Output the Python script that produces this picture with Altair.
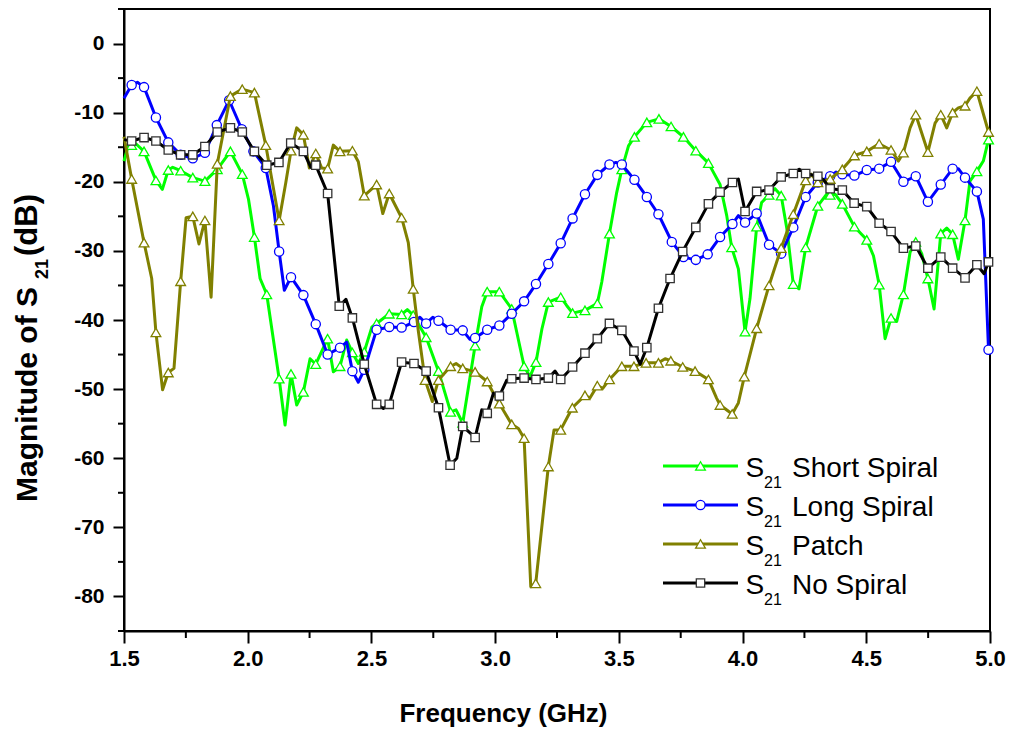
import altair as alt
import pandas as pd

# ---- S21 Short Spiral ----
short_f = [1.500, 1.517, 1.531, 1.548, 1.581, 1.629, 1.655, 1.679, 1.697, 1.729,
           1.778, 1.827, 1.877, 1.930, 1.978, 2.003, 2.027, 2.050, 2.077, 2.127,
           2.151, 2.175, 2.198, 2.225, 2.252, 2.275, 2.323, 2.346, 2.373, 2.400,
           2.423, 2.447, 2.471, 2.502, 2.521, 2.572, 2.622, 2.645, 2.669, 2.721,
           2.771, 2.820, 2.842, 2.869, 2.919, 2.946, 2.968, 3.017, 3.067, 3.087,
           3.117, 3.141, 3.165, 3.189, 3.215, 3.265, 3.289, 3.313, 3.363, 3.413,
           3.431, 3.462, 3.491, 3.512, 3.539, 3.563, 3.613, 3.662, 3.711, 3.761,
           3.811, 3.862, 3.909, 3.936, 3.956, 3.983, 4.010, 4.030, 4.057, 4.077,
           4.107, 4.131, 4.156, 4.179, 4.205, 4.228, 4.255, 4.304, 4.340, 4.354,
           4.374, 4.403, 4.452, 4.502, 4.529, 4.552, 4.576, 4.600, 4.623, 4.650,
           4.677, 4.700, 4.724, 4.749, 4.774, 4.801, 4.825, 4.849, 4.872, 4.899,
           4.919, 4.947, 4.973, 4.994]
short_db = [-17.0, -14.8, -14.7, -14.5, -15.6, -19.8, -21.1, -18.3, -17.9, -18.4,
            -19.4, -19.9, -18.2, -15.6, -18.9, -22.5, -28.0, -34.0, -36.3, -48.5,
            -55.2, -47.8, -52.3, -50.4, -45.6, -46.4, -42.7, -47.5, -46.7, -42.9,
            -44.7, -46.3, -44.6, -41.0, -40.5, -39.1, -39.2, -38.5, -39.3, -42.5,
            -47.4, -53.3, -53.0, -54.9, -43.7, -38.1, -35.9, -35.9, -38.4, -41.7,
            -46.7, -48.2, -46.1, -41.3, -37.4, -36.7, -37.9, -39.0, -38.6, -37.6,
            -34.5, -27.5, -21.6, -18.2, -14.8, -13.5, -11.4, -10.9, -12.0, -13.5,
            -15.5, -17.3, -20.4, -24.9, -29.5, -32.6, -41.7, -36.9, -26.5, -23.0,
            -21.9, -21.0, -22.0, -26.8, -34.8, -35.5, -29.5, -23.5, -21.8, -21.9,
            -21.8, -23.2, -26.5, -28.4, -30.7, -34.9, -42.7, -39.7, -40.2, -36.3,
            -30.2, -28.7, -30.4, -34.0, -38.4, -27.5, -26.7, -27.6, -31.2, -25.6,
            -19.9, -18.5, -17.0, -13.9]
short_mk = [0, 0, 1, 0, 1, 1, 0, 1, 0, 1,
            1, 1, 1, 1, 1, 0, 1, 0, 1, 1,
            0, 1, 0, 1, 0, 1, 1, 0, 1, 0,
            1, 0, 1, 0, 1, 1, 1, 0, 1, 1,
            1, 1, 0, 1, 1, 0, 1, 1, 1, 0,
            1, 0, 1, 0, 1, 1, 0, 1, 1, 1,
            0, 1, 0, 1, 0, 1, 1, 1, 1, 1,
            1, 1, 0, 0, 1, 0, 1, 0, 1, 0,
            1, 0, 1, 0, 1, 0, 1, 1, 0, 1,
            0, 1, 1, 1, 0, 1, 0, 1, 0, 1,
            0, 1, 0, 1, 0, 1, 0, 1, 0, 1,
            0, 1, 0, 1]

# ---- S21 Long Spiral ----
long_f = [1.500, 1.531, 1.554, 1.581, 1.629, 1.679, 1.729, 1.778, 1.827, 1.875,
          1.925, 1.976, 2.023, 2.073, 2.104, 2.127, 2.148, 2.175, 2.225, 2.275,
          2.323, 2.373, 2.400, 2.423, 2.447, 2.471, 2.521, 2.572, 2.622, 2.672,
          2.696, 2.721, 2.748, 2.771, 2.820, 2.869, 2.898, 2.919, 2.968, 3.017,
          3.067, 3.117, 3.165, 3.215, 3.265, 3.313, 3.363, 3.413, 3.462, 3.488,
          3.512, 3.563, 3.613, 3.660, 3.714, 3.740, 3.761, 3.811, 3.859, 3.909,
          3.959, 3.983, 4.010, 4.057, 4.107, 4.156, 4.205, 4.255, 4.304, 4.354,
          4.378, 4.403, 4.452, 4.502, 4.552, 4.600, 4.650, 4.700, 4.749, 4.801,
          4.849, 4.872, 4.899, 4.947, 4.973, 4.994]
long_db = [-7.9, -6.0, -5.6, -6.3, -10.7, -14.3, -16.1, -16.6, -15.8, -11.8,
           -8.2, -12.4, -15.6, -18.0, -23.5, -30.1, -35.7, -33.8, -36.4, -40.6,
           -45.0, -44.0, -43.2, -47.4, -49.0, -47.2, -41.4, -41.0, -41.1, -40.3,
           -39.6, -40.5, -39.6, -40.1, -41.4, -41.5, -42.8, -42.6, -41.4, -40.8,
           -39.1, -37.3, -34.8, -31.9, -28.9, -25.3, -21.8, -19.0, -17.5, -17.2,
           -17.5, -19.7, -22.2, -24.7, -28.7, -29.9, -30.9, -31.3, -30.5, -28.0,
           -26.1, -24.9, -25.9, -24.6, -29.1, -30.4, -26.6, -22.2, -20.1, -19.2,
           -18.6, -18.9, -19.1, -18.3, -18.1, -17.1, -20.0, -19.2, -22.9, -20.4,
           -18.1, -18.1, -19.4, -21.4, -25.4, -44.3]
long_mk = [0, 1, 0, 1, 1, 1, 1, 1, 1, 1,
           1, 1, 1, 1, 0, 1, 0, 1, 1, 1,
           1, 1, 0, 1, 0, 1, 1, 1, 1, 1,
           0, 1, 0, 1, 1, 1, 0, 1, 1, 1,
           1, 1, 1, 1, 1, 1, 1, 1, 1, 0,
           1, 1, 1, 1, 1, 0, 1, 1, 1, 1,
           1, 0, 1, 1, 1, 1, 1, 1, 1, 1,
           0, 1, 1, 1, 1, 1, 1, 1, 1, 1,
           1, 0, 1, 1, 0, 1]

# ---- S21 Patch ----
patch_f = [1.500, 1.531, 1.581, 1.612, 1.629, 1.656, 1.679, 1.702, 1.729, 1.751,
           1.778, 1.803, 1.827, 1.852, 1.877, 1.930, 1.978, 2.027, 2.073, 2.127,
           2.154, 2.175, 2.198, 2.225, 2.249, 2.275, 2.299, 2.323, 2.346, 2.373,
           2.423, 2.447, 2.471, 2.521, 2.546, 2.572, 2.622, 2.649, 2.669, 2.690,
           2.717, 2.746, 2.771, 2.820, 2.842, 2.869, 2.919, 2.968, 2.993, 3.017,
           3.067, 3.094, 3.117, 3.144, 3.164, 3.215, 3.238, 3.265, 3.312, 3.363,
           3.383, 3.413, 3.435, 3.462, 3.512, 3.561, 3.610, 3.660, 3.687, 3.710,
           3.758, 3.808, 3.862, 3.895, 3.909, 3.958, 3.983, 4.007, 4.057, 4.107,
           4.156, 4.205, 4.255, 4.277, 4.304, 4.354, 4.403, 4.452, 4.502, 4.552,
           4.600, 4.630, 4.650, 4.677, 4.700, 4.749, 4.778, 4.801, 4.825, 4.849,
           4.872, 4.899, 4.919, 4.947, 4.994]
patch_db = [-13.5, -19.6, -28.8, -34.0, -41.8, -50.1, -47.6, -47.0, -34.4, -25.2,
            -25.0, -29.0, -25.6, -36.7, -17.4, -7.6, -6.6, -7.1, -14.7, -25.6,
            -20.1, -15.5, -12.2, -13.2, -18.0, -15.9, -18.0, -18.1, -14.7, -15.6,
            -15.5, -17.1, -22.0, -20.4, -24.6, -21.7, -25.2, -28.8, -35.5, -41.7,
            -48.7, -51.8, -48.7, -46.7, -46.3, -47.0, -47.5, -48.9, -50.6, -52.1,
            -55.1, -55.7, -57.1, -78.6, -78.1, -61.2, -55.9, -55.9, -52.7, -50.9,
            -51.3, -49.5, -49.9, -48.6, -46.7, -46.7, -46.2, -46.2, -45.6, -45.9,
            -46.8, -47.4, -48.6, -51.3, -52.3, -53.6, -52.0, -48.2, -41.2, -35.0,
            -29.6, -24.7, -19.8, -18.9, -20.1, -19.6, -18.2, -16.2, -15.6, -14.5,
            -15.4, -17.0, -15.8, -12.2, -10.3, -15.7, -11.5, -10.3, -12.2, -10.0,
            -9.3, -9.0, -7.9, -6.9, -12.8]
patch_mk = [0, 1, 1, 0, 1, 0, 1, 0, 1, 0,
            1, 0, 1, 0, 1, 1, 1, 1, 1, 1,
            0, 1, 0, 1, 0, 1, 0, 1, 0, 1,
            1, 0, 1, 1, 0, 1, 1, 0, 1, 0,
            1, 0, 1, 1, 0, 1, 1, 1, 0, 1,
            1, 0, 1, 0, 1, 1, 0, 1, 1, 1,
            0, 1, 0, 1, 1, 1, 1, 1, 0, 1,
            1, 1, 1, 0, 1, 1, 0, 1, 1, 1,
            1, 1, 1, 0, 1, 1, 1, 1, 1, 1,
            1, 0, 1, 0, 1, 1, 0, 1, 0, 1,
            0, 1, 0, 1, 1]

# ---- S21 No Spiral ----
nospiral_f = [1.500, 1.531, 1.581, 1.629, 1.679, 1.729, 1.778, 1.827, 1.877, 1.930,
              1.978, 2.027, 2.077, 2.126, 2.174, 2.225, 2.255, 2.275, 2.323, 2.346,
              2.370, 2.397, 2.423, 2.471, 2.521, 2.548, 2.572, 2.622, 2.672, 2.721,
              2.771, 2.818, 2.845, 2.869, 2.919, 2.946, 2.968, 2.993, 3.017, 3.047,
              3.067, 3.117, 3.165, 3.215, 3.242, 3.265, 3.313, 3.363, 3.413, 3.462,
              3.512, 3.561, 3.586, 3.613, 3.660, 3.707, 3.758, 3.811, 3.862, 3.909,
              3.959, 3.983, 4.010, 4.057, 4.107, 4.156, 4.205, 4.229, 4.255, 4.304,
              4.327, 4.354, 4.403, 4.451, 4.502, 4.552, 4.600, 4.650, 4.700, 4.749,
              4.801, 4.849, 4.899, 4.947, 4.976, 4.994]
nospiral_db = [-13.9, -14.1, -13.6, -14.1, -15.4, -16.1, -16.1, -14.9, -12.8, -12.2,
               -12.8, -15.6, -17.6, -17.2, -14.4, -15.6, -17.9, -17.6, -21.7, -29.7,
               -38.0, -37.0, -39.7, -46.4, -52.2, -52.8, -52.2, -46.1, -46.3, -47.4,
               -52.7, -61.0, -60.0, -55.4, -57.0, -53.0, -53.5, -50.6, -51.0, -48.7,
               -48.5, -48.4, -48.6, -48.4, -47.4, -48.6, -46.8, -44.8, -42.7, -40.5,
               -41.5, -44.5, -46.4, -44.0, -38.3, -34.0, -30.1, -26.6, -23.2, -21.5,
               -20.1, -19.6, -24.3, -21.4, -21.2, -19.3, -18.8, -18.2, -18.8, -19.2,
               -19.7, -21.0, -21.2, -23.1, -23.6, -26.0, -27.2, -29.6, -29.3, -32.5,
               -30.9, -32.5, -33.9, -32.0, -33.3, -31.6]
nospiral_mk = [0, 1, 1, 1, 1, 1, 1, 1, 1, 1,
               1, 1, 1, 1, 1, 1, 0, 1, 1, 0,
               1, 0, 1, 1, 1, 0, 1, 1, 1, 1,
               1, 1, 0, 1, 1, 0, 1, 0, 1, 0,
               1, 1, 1, 1, 0, 1, 1, 1, 1, 1,
               1, 1, 0, 1, 1, 1, 1, 1, 1, 1,
               1, 0, 1, 1, 1, 1, 1, 0, 1, 1,
               0, 1, 1, 1, 1, 1, 1, 1, 1, 1,
               1, 1, 1, 1, 0, 1]

# name, frequencies, magnitudes, marker flags, line colour, marker stroke, marker shape, marker size
series = [
    ("Short Spiral", short_f, short_db, short_mk, "#00ff00", "#00ff00", "triangle-up", 95),
    ("Long Spiral", long_f, long_db, long_mk, "#0000ff", "#0000ff", "circle", 85),
    ("Patch", patch_f, patch_db, patch_mk, "#808000", "#808000", "triangle-up", 95),
    ("No Spiral", nospiral_f, nospiral_db, nospiral_mk, "#000000", "#333333", "square", 70),
]

x_major = [1.5, 2.0, 2.5, 3.0, 3.5, 4.0, 4.5, 5.0]
x_minor = [1.75, 2.25, 2.75, 3.25, 3.75, 4.25, 4.75]
y_major = [-80, -70, -60, -50, -40, -30, -20, -10, 0]
y_minor = [-85, -75, -65, -55, -45, -35, -25, -15, -5, 5]

W, H = 866, 622
FONT = "Liberation Sans"

x_scale = alt.Scale(domain=[1.5, 5.0], nice=False, zero=False)
y_scale = alt.Scale(domain=[-85, 5], nice=False, zero=False)

axis_common = dict(
    title=None, grid=False, labelFont=FONT, labelFontWeight="bold",
    labelColor="black", tickColor="black", tickWidth=2, domainColor="black",
    domainWidth=2, labelFlush=False, labelOverlap=False,
)
x_axis = alt.Axis(values=x_major, format=".1f", labelFontSize=22, tickSize=12,
                  labelPadding=5, **axis_common)
y_axis = alt.Axis(values=y_major, labelExpr="'' + datum.value", labelFontSize=21,
                  tickSize=11, labelPadding=9, **axis_common)

X = lambda: alt.X("f:Q", scale=x_scale, axis=x_axis)
Y = lambda: alt.Y("db:Q", scale=y_scale, axis=y_axis)

layers = []

# minor ticks on both axes
layers.append(
    alt.Chart(pd.DataFrame({"f": x_minor})).mark_rule(color="black", strokeWidth=2)
    .encode(x=X(), y=alt.value(H), y2=alt.value(H + 7))
)
layers.append(
    alt.Chart(pd.DataFrame({"db": y_minor})).mark_rule(color="black", strokeWidth=2)
    .encode(y=Y(), x=alt.value(-6), x2=alt.value(0))
)

# curves and their hollow markers
for name, f, db, mk, color, mstroke, shape, msize in series:
    df = pd.DataFrame({"f": f, "db": db, "mk": mk})
    base = alt.Chart(df)
    layers.append(
        base.mark_line(color=color, strokeWidth=3, strokeJoin="round")
        .encode(x=X(), y=Y(), order="f:Q")
    )
    layers.append(
        base.transform_filter("datum.mk == 1")
        .mark_point(shape=shape, filled=True, fill="white", stroke=mstroke,
                    strokeWidth=1.3, size=msize, opacity=1)
        .encode(x=X(), y=Y())
    )

# axis titles with subscripts
def label(text, x, y, size, weight="bold", angle=0, align="left", font=FONT):
    return alt.Chart(pd.DataFrame({"t": [text]})).mark_text(
        font=font, fontSize=size, fontWeight=weight, angle=angle, align=align,
        baseline="alphabetic", color="black",
    ).encode(text="t:N", x=alt.value(x), y=alt.value(y))

layers.append(label("Frequency (GHz)", 379.5, 713, 26, align="center"))
layers.append(label("Magnitude of S", -87, 493, 30, angle=270))
layers.append(label("21", -76, 270, 18, angle=270))
layers.append(label("(dB)", -87, 247, 31, angle=270))

# legend
for i, (name, f, db, mk, color, mstroke, shape, msize) in enumerate(series):
    ry = 457 + 39 * i
    layers.append(
        alt.Chart(pd.DataFrame({"k": [name]})).mark_rule(color=color, strokeWidth=3)
        .encode(x=alt.value(539), x2=alt.value(614), y=alt.value(ry))
    )
    layers.append(
        alt.Chart(pd.DataFrame({"k": [name]}))
        .mark_point(shape=shape, filled=True, fill="white", stroke=mstroke,
                    strokeWidth=1.3, size=msize, opacity=1)
        .encode(x=alt.value(576.5), y=alt.value(ry))
    )
    layers.append(label("S", 621.5, ry + 10.5, 28, weight="normal"))
    layers.append(label("21", 640, ry + 22, 16, weight="normal"))
    layers.append(label(name, 668, ry + 10.5, 28, weight="normal"))

chart = (
    alt.layer(*layers)
    .properties(
        width=W, height=H,
        padding={"left": 124, "top": 9, "right": 22, "bottom": 100},
        autosize=alt.AutoSizeParams(type="none"),
        background="white",
    )
    .configure_view(stroke="black", strokeWidth=2)
)

chart.save("out.html", embed_options={"renderer": "svg", "actions": False})
